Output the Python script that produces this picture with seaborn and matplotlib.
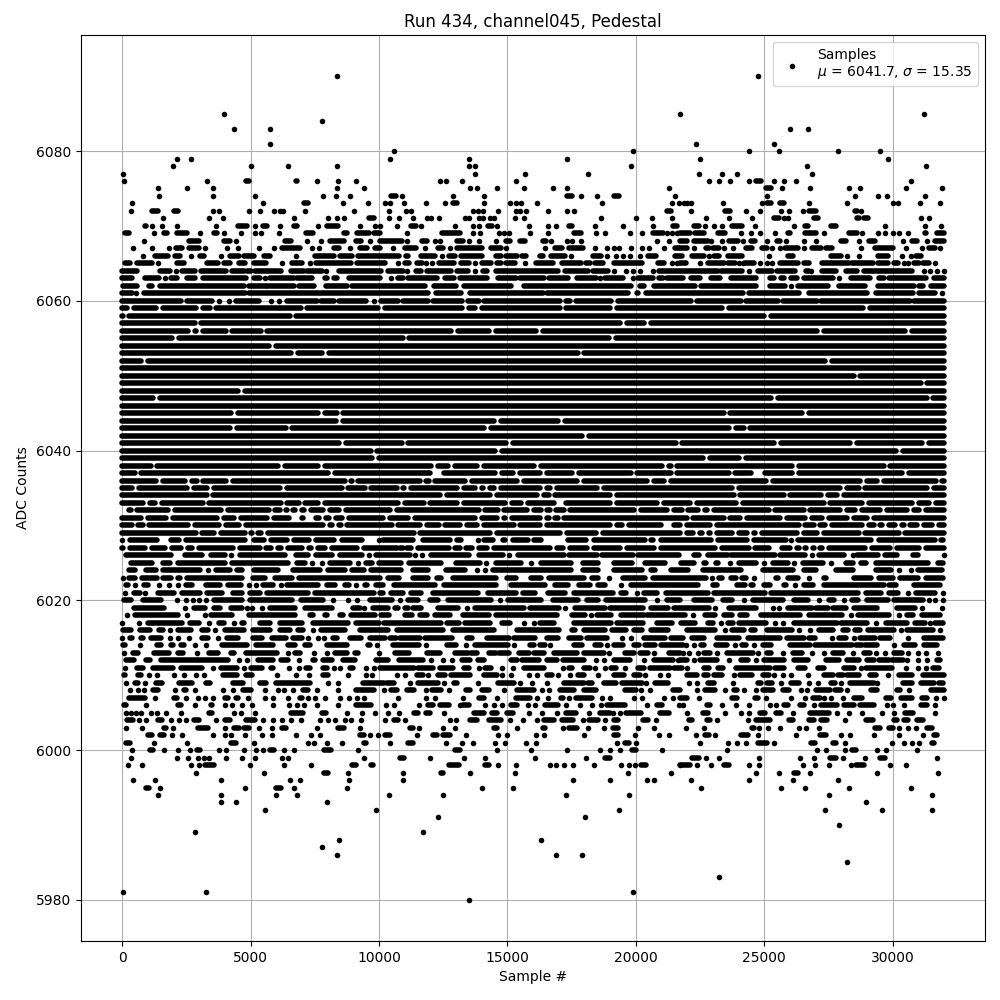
# Pedestal samples of one ADC channel.
# Single numbers are lone dots, (a, b) pairs are stretches where dots merge.

import matplotlib
matplotlib.use("Agg")
import matplotlib.pyplot as plt
import pandas as pd
import seaborn as sns

mean_adc = 6041.7
sigma_adc = 15.35
last_sample = 32000

# rows that are solid except for thin breaks: sample numbers of the breaks
dense_levels = [6059, 6058, 6057, 6056, 6055, 6054, 6053, 6052, 6051, 6050, 6049,
                6048, 6047, 6046, 6045, 6044, 6043, 6042, 6041, 6040, 6039, 6038,
                6037, 6036, 6035, 6034, 6033, 6032, 6031, 6030, 6029, 6027]
dense_breaks = [
    [325, 1456, 3016, 3536, 7085, 10112, 13362, 13882, 17171, 19147, 23484, 28983],
    [156, 6656, 25135],
    [2951, 19537, 20447],
    [2691, 3016, 4160, 5525, 12933, 14428, 16261, 27189, 30634],
    [2080, 11061, 19108],
    [5850],
    [6721, 7930, 17873],
    [871, 27514],
    [],
    [28619],
    [31219],
    [4641],
    [1339, 25408, 31453],
    [],
    [4381, 7774, 8489, 23549, 26604],
    [8476, 14623, 17106],
    [4329, 6500, 14233, 23770, 24329],
    [18042],
    [8580, 11022, 15091, 21682, 25525, 28489, 31284],
    [9815, 14662, 30283],
    [9867, 22743, 24160],
    [1248, 6214, 7761, 12153, 12816, 13947, 16183, 21162, 21487, 26214, 29789],
    [624, 8151, 12127, 12387, 14662, 15351, 16417, 17652, 19927, 21487, 23744, 24615,
     24888, 26214, 30504],
    [1456, 2574, 3029, 4173, 8801, 9074, 11711, 12062, 13492, 15507, 17847, 20577,
     21227, 25213, 28879, 29529, 31804],
    [533, 2665, 3445, 6279, 8684, 9581, 10827, 11113, 13167, 13882, 14181, 14623,
     16417, 16807, 18627, 23874, 28099, 28814, 31479],
    [3419, 12517, 14467, 16287, 16742, 19147, 23939, 25889, 27358, 27969],
    [962, 1417, 3263, 6305, 7007, 7761, 10892, 11867, 13167, 15052, 15663, 16937,
     17171, 19147, 20967, 22262, 24030, 27449, 28944, 30894, 31544],
    [143, 468, 1911, 3978, 5837, 6279, 6513, 6877, 7215, 7956, 8593, 10567, 14012,
     14753, 15897, 16430, 16781, 17327, 20057, 21357, 21924, 22574, 22899, 25304,
     26669, 28099, 28684, 29659, 30699, 31154],
    [871, 1833, 3835, 4498, 5772, 6630, 6916, 7137, 7410, 7800, 8190, 8710, 10307,
     11282, 13882, 14727, 15052, 16417, 16742, 17093, 22119, 23549, 24199, 25759,
     26734, 27384, 28359, 29139],
    [507, 936, 2691, 3913, 4693, 7969, 8320, 8645, 10632, 11737, 12452, 13297, 13947,
     15377, 16417, 19147, 19602, 21097, 21357, 21859, 23029, 26474, 27059, 27514,
     28944, 29399, 29724, 30244, 30569, 31089, 31674],
    [2990, 3718, 4927, 5148, 5551, 11477, 14467, 17197, 18601, 21859, 22379, 22704,
     23029, 23874, 24459, 24784, 26409, 27189, 28814, 30374],
    [163, 1040, 1820, 2431, 2860, 4446, 5486, 5941, 6318, 7150, 7488, 8034, 9295,
     10827, 10957, 11399, 12842, 13271, 13752, 14337, 16807, 17301, 18237, 19511,
     20837, 23224, 24524, 25304, 25564, 26149, 26474, 26773, 27059, 27384, 29074,
     30049, 31154],
]

# every other row: lone dots and merged stretches
tail_levels = [6090, 6085, 6084, 6083, 6081, 6080, 6079, 6078, 6077, 6076, 6075, 6074,
               6073, 6072, 6071, 6070, 6069, 6068, 6067, 6066, 6065, 6064, 6063, 6062,
               6061, 6060, 6028, 6026, 6025, 6024, 6023, 6022, 6021, 6020, 6019, 6018,
               6017, 6016, 6015, 6014, 6013, 6012, 6011, 6010, 6009, 6008, 6007, 6006,
               6005, 6004, 6003, 6002, 6001, 6000, 5999, 5998, 5997, 5996, 5995, 5994,
               5993, 5992, 5991, 5990, 5989, 5988, 5987, 5986, 5985, 5983, 5981, 5980]
tail_samples = [
    [8370, 24780],
    [3965, 21730, 31240],
    [7790],
    [4355, 5760, 25990, 26690],
    [5760, 22365, 25365],
    [10605, 19875, 24430, 25560, 27895, 29530],
    [2130, 2680, 10450, 13490, 17340, 22520, 29840],
    [1975, 5020, 6460, 8370, 13490, 13760, 19835, 26650, 31320],
    [30, 13760, 15705, 18160, 22445, 23340, 23925, 26845],
    [65, 3300, (4810, 4940), (6770, 6830), 7590, 8410, 9110, 12360, 12630, 13250, 15320,
     22870, 23260, 23690, 24430, (24700, 24860), 25365, 25790, 26260, 30700],
    [1390, 2520, 3535, 8370, 9425, 13565, 13800, 14615, 15665, 16795, 17340, 21315,
     (25090, 25250), 25715, 26805, 28285, 28750, 30540, 31945],
    [1430, 3535, 5170, 7825, 8330, 8880, (10460, 10670), 10880, 12900, 14110,
     (17340, 17500), 17885, 18510, (19170, 19330), 21510, 25130, 28520, 29450, 29800, 31280],
    [375, 5480, (7100, 7240), 8600, 9580, 10250, 10450, 10995, 11850, 12590, (12900, 13060),
     14110, 15085, 15355, 15550, 16175, 18705, 21430, 21690, 21885, 22015, 22170, 23415,
     24935, (25130, 25285), (25600, 25755), 26765, 28245, 30035, 30230, 31050, 31865],
    [335, (1150, 1390), (2015, 2170), 3535, 3770, 4940, 5370, 5915, 6150, 6270, 7125, 9035,
     10410, 11070, 11265, 13645, 13875, 14070, 14655, 15355, 15510, 15745, 16600, 17305,
     17615, (21235, 21390), 22170, (23495, 23690), 24275, 24855, 25675, 25985, 26530,
     (26765, 27000), (28520, 28635), 28790],
    [1585, 3380, 3925, 6695, 8025, 8370, 8645, (9620, 9815), 10410, 10800, 11345, 11890,
     12045, 12355, 13370, 13525, 13915, 14070, 14345, 14500, 15280, 15665, 18665, 20030,
     20615, 21430, 22755, 23650, 24545, (25365, 25560), 25755, 25945, (26960, 27115),
     (28635, 28710), (28905, 29060), 31090, 31400],
    [(880, 920), 1155, 1545, 2130, 3650, (4510, 4875), 5170, (5480, 5640), 6150, (6695, 6810),
     7630, (7980, 8410), 9270, 9850, 10050, 10720, (11265, 11425), 11655, 12980, 13645,
     13915, (14265, 14420), 14615, 15825, 16600, 16915, (17420, 17500), 18395, 19520, 20690,
     (21470, 21600), (22285, 22445), 22715, 23065, 23340, (23730, 24120), 24625, 26180,
     (26610, 26725), (27620, 27780), 29725, 31245, 31905],
    [(100, 280), 1235, (1625, 1755), (2120, 2520), 3015, (3575, 3705), 3965, 4630, 5175, 5410,
     6110, (7165, 7435), (8645, 8775), (9140, 9620), (9815, 10050), 11100, (12475, 13160),
     13645, 13955, 14695, 14890, 15080, 15900, 16600, (17615, 17885), 18470, 18820, 19795,
     20225, (20690, 21080), 21235, 21430, 21625, (21730, 22120), (22325, 22640),
     (23185, 23495), 24080, 24470, 24820, 25440, (25945, 26025), (26610, 27000), 27350,
     (28285, 28635), 28830, 29450, 29725, 30000, 30270, 30620, (31245, 31320), (31750, 31985)],
    [845, (2600, 2990), (3965, 4200), 4435, (6345, 6580), 7200, 7750, (8100, 8645),
     (9090, 9295), 9660, (10050, 10880), 11110, (11695, 11890), 12165, 12395, (13060, 13255),
     13525, 13915, 14575, (14965, 15085), (15510, 15705), (16405, 16525), 16720, 17305, 17535,
     17850, 20810, 21315, (21730, 22015), (22250, 22830), 22950, 23340, (23650, 24000), 24195,
     (24470, 24660), 25130, (25520, 25635), 25870, 26570, 27000, (28010, 28205), 28710,
     (29100, 29335), 30425, (30775, 30970), 31360, (31635, 31985)],
    [415, 1155, 1810, (2090, 2325), (2600, 2990), 3225, 4080, 4510, 5330, 5915, (6225, 6930),
     7400, 7670, (8255, 8450), 8880, (9270, 9540), (9850, 10050), 10530, (11035, 11425), 11810,
     (12320, 12515), 12785, (13060, 14005), (14380, 14735), 14965, 16485, (16875, 17110),
     (17420, 17965), 18430, 18900, 19135, 19365, 19835, 20260, 20535, 21120, (21545, 21690),
     (21730, 22015), 22250, (22755, 22870), (23025, 23260), 23455, 23770, (24310, 24545),
     (24935, 25130), 25325, 25600, (25830, 26300), 26570, (26880, 27195), (27425, 27660), 28790,
     (29335, 30035), 30505, 31165, (31400, 31635), 31865],
    [805, (1275, 1780), (2055, 2250), 2665, (3015, 3195), 3850, (4200, 4550), (4730, 5125),
     (5510, 5770), 6760, (7500, 8255), (8490, 8970), (9190, 10800), (11070, 11150),
     (11655, 12190), 12475, (12710, 12980), (13215, 13995), (14575, 14770), (14965, 15380),
     (15590, 15745), (16290, 16405), (16720, 17265), 17495, (18355, 18665), 18900, 19250, 19485,
     19795, 20185, (20495, 20770), (21510, 21800), (22210, 22640), 22835, (23030, 23260),
     (23610, 24155), 25170, (25945, 26105), (27620, 28010), 28245, 28710, (29415, 29840), 30350,
     30700, (30930, 31125)],
    [(115, 325), (585, 1170), 1390, (2145, 2405), (3290, 3730), (3965, 4200), (4550, 4785),
     (5135, 5590), 6225, (6620, 7020), 7320, (7540, 8905), (9165, 10255), 10760, (11035, 11190),
     (11500, 11695), 11850, 12085, (12355, 12940), (13215, 13490), 13735, (14030, 14380),
     (14615, 14770), (14965, 15315), 15705, (16135, 16760), (17110, 17885), (18045, 18235),
     (18395, 18745), (19170, 20225), (20885, 21120), 21430, 21625, (21730, 21940), 22520,
     (22830, 23455), (23610, 23850), 24040, 24195, (24270, 24590), 24820, 25130, 25325,
     (25635, 26335), (26570, 26765), (27235, 28285), (28440, 29255), (29450, 29840),
     (30040, 30230), 30430, 30620, (30820, 31015), (31205, 31400), 31670],
    [(0, 585), (1495, 1860), 2090, (2330, 2850), (3055, 4030), (4290, 4745), (4875, 5030),
     (5190, 6175), (6565, 7085), (7215, 7800), 7955, (8450, 10090), (10370, 10955), 11110,
     (11460, 11655), (11890, 12825), (13060, 13450), 13760, (14070, 14190), (14575, 16955),
     (17265, 18160), (18355, 18935), 19135, 19640, 19875, 20185, 20690, (20925, 23220),
     (23310, 24150), 24430, (24750, 25310), (25490, 26220), (26620, 26730), 26810,
     (27250, 27780), (28180, 28620), (28890, 30760), 31220, 31450, 31720, 31990],
    [(0, 390), (910, 1430), 1675, (1885, 2145), (2520, 2850), (3145, 4810), (5120, 5385), 5575,
     (5770, 6680), (6825, 7410), (7905, 7995), (8255, 8385), (8825, 10050), 10490,
     (10760, 10955), (11150, 12280), (12590, 12940), (13175, 14225), (14655, 15355),
     (15510, 16445), (16640, 17380), (17730, 18470), 18625, (18820, 19485), 19910,
     (20105, 20690), (20925, 21080), (21235, 21850), (22150, 22500), (22930, 23290),
     (23700, 24690), (25220, 25370), (25650, 25760), (26040, 26280), (26570, 27700), 27900,
     (28380, 29130), (29460, 29660), (29850, 31320), (31600, 31990)],
    [(50, 585), (1040, 1170), (1495, 4745), (4940, 5590), (5655, 6695), (6890, 7475),
     (7930, 8775), (8970, 11800), (12130, 13000), (13300, 15150), (15640, 19820),
     (20170, 20340), (20730, 22300), (22540, 24670), (25220, 25800), 26050, (26300, 27490),
     (27920, 28910), (29420, 30820), (31040, 31170), (31500, 31990)],
    [(0, 390), 530, (845, 4800), (4950, 11900), (12240, 13200), (13540, 16400), (16540, 19700),
     (20060, 20100), (20400, 24180), (24400, 26370), (26760, 29000), (29350, 30800),
     (31030, 31650), 31930],
    [(0, 2275), (2535, 3510), 3770, 4160, (4420, 5330), 5810, 6110, (6435, 7605), (7750, 8250),
     (8450, 9490), 9815, (10100, 10750), (10950, 11900), (12100, 13240), (13480, 13890),
     (14100, 17070), (17300, 17460), (17680, 19040), (19300, 22150), (22370, 24100),
     (24280, 25550), (25740, 27040), (27220, 30680), (30820, 31990)],
    [0, (312, 1378), (1911, 2210), (2496, 4784), (5135, 5538), (5785, 6409), (6682, 7280),
     (7540, 8268), (8580, 9334), 10010, (10177, 11321), (11698, 12751), (13024, 13206), 13843,
     (14103, 14441), (14818, 14896), (15208, 15806), (16053, 16326), (17353, 18081),
     (18393, 20356), (20603, 20681), (20993, 22938), (23185, 24342), (24615, 25863), 26058,
     (26305, 29178), (29490, 31648), (31895, 31973)],
    [(156, 1898), (2431, 3094), (3471, 4004), 4251, (4576, 6344), (6786, 7254), (7566, 8164),
     (8476, 9334), 9620, (9906, 11200), 11412, 11672, (12047, 13522), (13900, 14837), 15052,
     (15400, 17200), (17400, 18500), (18700, 19900), (20100, 21700), (22258, 22450),
     (22800, 23600), (23724, 25434), (25600, 26600), 26864, (27153, 28129), 28463,
     (28618, 29450), (29700, 30180), (30790, 31000), 31999],
    [(351, 1170), (1586, 1859), (2171, 4004), (4290, 6474), (6825, 7124), 7410, 7800,
     (8112, 8879), 9191, (9516, 9724), (10010, 10866), (11178, 12426), (12998, 13921), 14168,
     (14558, 15546), 15936, (16313, 17496), (17938, 18536), (19173, 19836), (20343, 21136),
     (21780, 22287), (22665, 22743), (23120, 23198), 23679, (24030, 24693), 24979,
     (25330, 25928), 26149, (26500, 27293), 27605, (28190, 28463), (28775, 28983),
     (29360, 31388), (31765, 31973)],
    [(260, 494), (936, 1339), (1586, 3029), 3341, (3666, 4199), (4485, 4654), (5122, 6084),
     (6656, 7709), (8021, 8684), (8970, 9438), (9711, 10866), (11308, 11906), (12608, 13336),
     13817, 14142, (14428, 17496), (17938, 18536), (19173, 20226), (20603, 20746),
     (21383, 22040), (22600, 24108), (24940, 26123), (26565, 27033), (27800, 28463),
     (29360, 29958), 30270, 30700, (30985, 31908)],
    [26, (260, 494), (780, 1340), (1590, 1900), (2170, 2250), (2520, 4650), (5100, 5570),
     (5940, 6600), (6900, 10050), (10340, 10800), (11310, 11900), (12280, 12400),
     (12870, 14570), (14970, 15350), (15920, 16320), (16640, 17970), (18310, 18530), 18950,
     (19500, 20350), (20690, 22740), 22965, (23250, 23350), (23700, 23920), (24130, 24310),
     24590, (25450, 25550), (25910, 26310), 26735, (27340, 27420), (28510, 29180),
     (29480, 30000), (30300, 31000), (31300, 31960)],
    [(160, 230), 494, (870, 990), 1456, 1820, 2170, (2500, 2740), (3280, 3810), (4120, 4620),
     4940, 5200, (5490, 5890), 6175, (6420, 7620), (7960, 8290), (8670, 8840), 9100,
     (9450, 9530), (9900, 10150), (10590, 12170), (12540, 14570), (15140, 16460), (16850, 17370),
     (17800, 18210), (18520, 18790), 19410, (19820, 22420), (22990, 23170), (23960, 24240),
     (24480, 24560), (24990, 25210), (25780, 25870), 26215, (26560, 26900), (27340, 29660),
     (29880, 30150), (30850, 31840)],
    [117, (480, 690), 910, (1380, 2015), (2340, 3030), (3315, 3875), (4315, 4655), (4965, 5370),
     (5640, 7255), (7530, 9790), (10050, 10150), (10460, 10930), (11240, 11650), (12090, 13860),
     (14230, 15350), (15600, 16070), (16570, 17230), (17610, 19120), (19430, 19640), 20060,
     (20340, 20810), (21190, 22820), (23050, 25030), (25260, 28640), (28970, 29560),
     (29870, 30220), 30590, (30910, 31640), 31965],
    [(91, 364), (810, 1530), 2145, 2485, 2755, 2990, 3250, (3560, 4650), (4965, 6600),
     (6980, 7840), 8215, 8800, 9150, (9645, 10500), 10830, (11130, 11510), (11980, 12290),
     (12690, 14370), 14730, (15040, 16320), (16760, 17750), (18110, 18540), (18850, 20350),
     20840, (21230, 21730), (22280, 22960), (23400, 23760), 24200, (24570, 25730),
     (26170, 26690), 27130, (27510, 27730), 28100, (28420, 28650), (29000, 29820),
     (30040, 31200), 31400, 31660, 31960],
    [(480, 1640), 2440, (2800, 3225), (3560, 3810), (4250, 4650), 4875, 5070, 5435,
     (5750, 6735), (7110, 8165), (9000, 9270), 9425, (9780, 10350), (10630, 10760),
     (11000, 11120), (11310, 11640), (12320, 13080), 13430, (13750, 15650), (15890, 17000),
     17260, (17650, 18800), (18990, 20300), (20580, 21260), (21480, 22870), 23100,
     (23630, 24690), 25340, 25560, (25920, 26860), (27000, 27480), (27700, 28200),
     (28490, 29390), (30180, 30870), 31150, 31930],
    [182, (520, 2180), 2510, 3220, (3470, 4265), (4930, 6735), (7310, 7450), (7890, 7970),
     (8475, 8620), (8930, 9855), (10100, 10400), (11020, 11300), (11600, 11880), (12190, 12780),
     (13280, 14290), (14570, 16940), (17520, 18020), 18240, (18490, 19050), (19410, 20320),
     (20450, 21930), 22220, (22710, 23100), (23420, 23740), (24050, 24330), (24880, 26400),
     (26730, 28050), 28380, (28640, 29850), 30240, (30570, 30790), (31150, 31830)],
    [0, 650, (1000, 2315), (2625, 2990), 3380, (3770, 3965), 4355, (4680, 4745), (5360, 5760),
     (6135, 6995), (7435, 8815), (9125, 9985), (10180, 12400), (12650, 13130), (13350, 14310),
     (14790, 15100), 15640, 16030, (16290, 16800), (17580, 19050), (19280, 20270),
     (20840, 21430), (21780, 22320), (22800, 22990), 23315, (23590, 23800), (24040, 25070),
     25410, 25720, (26170, 27850), (27990, 29020), 29370, (29730, 30560), (30860, 31280), 31450,
     (31640, 31980)],
    [(50, 365), (700, 1080), (1430, 1600), 1860, (2170, 2700), (3120, 3350), 3615, (3990, 4745),
     (5100, 5760), (6135, 6540), (6850, 7060), 7450, (7760, 8680), (9260, 10340), (10720, 12490),
     (12870, 14500), (15370, 17030), (17520, 17620), (17990, 18790), (19080, 19640),
     (19930, 20230), (20600, 21260), (21990, 23100), 23460, (23730, 24200), (24480, 24650),
     (25130, 26080), 26350, 26770, (27150, 27670), (28060, 28280), (28520, 28730),
     (29060, 30040), 30330, (30560, 31560), 31840],
    [0, (310, 400), (740, 820), (1130, 1530), 1860, 2170, 2600, (3120, 3350), 3750, (4100, 4525),
     (5100, 5435), (5850, 6370), (6650, 7000), 7240, 7630, 7865, (8215, 8360), (8870, 9310),
     (9670, 10220), (10440, 10650), (10830, 11600), (11790, 12840), (13430, 13620),
     (14200, 15050), (15250, 16070), (16550, 16970), (17390, 17880), (18110, 18870), 19480, 19800,
     (20320, 21130), (21360, 21860), (22180, 22640), (23160, 24030), (24390, 25600),
     (25890, 26560), (26730, 26970), 27630, (27900, 28170), 28490, (28720, 29300),
     (29500, 29910), 30590, (31220, 31960)],
    [(30, 130), 690, (1350, 1530), (1910, 1990), (2300, 2420), 2830, 3250, (3900, 4850),
     (5225, 5890), (6460, 6735), (7110, 7320), (7960, 8750), (9580, 9660), 9945, (10560, 11560),
     11815, (12640, 13010), 13375, (13740, 15010), 15250, (15870, 16030), (16280, 16480), 16680,
     (17610, 17900), (18400, 18630), 18880, (19150, 19510), (19930, 20120), (20350, 20740),
     (20970, 21860), 21965, 22250, (22530, 22640), (23120, 23570), 23850, (24120, 24280), 24590,
     (24950, 25270), (26020, 26770), (26970, 28420), (28580, 28810), (28940, 29400), 30050,
     (30440, 30870), (31220, 31730)],
    [65, (420, 620), (1260, 1820), (2170, 2380), 2900, (3380, 3745), (4250, 4370), (4840, 6020),
     6470, (6720, 6930), 7475, 7965, (8280, 8750), (9060, 9200), 10010, (10630, 11170),
     (11890, 12360), (12970, 13450), (13570, 13800), (14270, 14550), (14660, 15050),
     (15440, 15830), (16030, 16420), (16820, 17720), (17980, 18760), 18950, (19580, 19930),
     (20160, 20480), 20710, (21290, 21730), 21860, 22090, 22440, (22650, 22900), 23150,
     (23540, 23880), (23960, 24580), 24780, (25130, 25270), 25730, (26110, 26460), 26850, 27320,
     (27700, 28080), 28450, (28880, 29130), 29350, 29700, (30050, 30360), 30590, 30980, 31320,
     31760],
    [(160, 470), (940, 1080), (1520, 4135), 4550, 4875, (5290, 5890), (6200, 6470), 6890,
     (7440, 7510), (7830, 8160), (8610, 9070), (9905, 10370), (10800, 11700), 12010, 12480, 12830,
     (13220, 13530), (13840, 14100), (15130, 15360), (15560, 16220), (16530, 16920),
     (17160, 17980), 18440, 18760, (19150, 19770), 20320, (20710, 21450), 21640, (21730, 22015),
     22250, (22520, 23180), 23650, (24080, 24390), 24700, (25010, 25760), (26150, 26690),
     (27400, 27900), (28230, 28680), (28990, 29270), (29490, 29850), (29970, 30400), 30550, 30985,
     31330, (31720, 31850)],
    [105, (585, 820), (1200, 1990), (2300, 3120), 3535, (3860, 4460), 4745, (5030, 5435),
     (5810, 5890), 6480, 6890, (7180, 7320), (7830, 7970), 8255, 8490, (8870, 9010), 9490, 9800,
     (10050, 11350), (11540, 12090), (12360, 12870), (13300, 13490), 13880, (14150, 14350), 14780,
     15210, (15640, 16150), (16220, 16420), 17160, (17390, 17520), (17980, 18210), 18410, 18800,
     (19030, 19220), 19570, (20080, 20320), (20550, 21330), (21490, 21790), 22015, (22640, 22870),
     (23220, 23380), (23890, 25240), (25410, 25760), (26300, 26610), (27090, 27320),
     (28100, 28490), 28760, (28960, 29980), 30520, 30985, 31300, (31570, 31800)],
    [(85, 105), (610, 755), 1040, 1365, 2035, 2420, 2890, 3185, (3925, 4460), (4835, 5045), 6045,
     6760, 7280, (7830, 8010), 8800, 9490, 9750, 10685, 11035, (11465, 11735), 11930,
     (12285, 12560), (12790, 13530), (14080, 14585), 14780, 15130, 15830, 16145, (16535, 16730),
     16965, 17430, (17740, 17975), 18525, (19145, 19535), (19925, 20160), 20355, 20940, 21250,
     (21990, 22380), (22640, 22830), (23030, 23350), 23845, (24070, 24520), (24940, 25170), 25365,
     25720, 26065, 26690, (27315, 27700), (27895, 28090), (28230, 28680), (29110, 29340), 29840,
     (30240, 30750), (31170, 32000)],
    [145, (510, 625), 885, (1325, 1535), (2235, 2705), (3275, 3420), (4320, 4720), (5355, 5590),
     (6005, 7320), 8020, 8410, (9385, 10180), (10330, 10570), 11230, (11540, 12300), 12520,
     (12910, 13040), 13840, (14620, 15250), 15480, 15950, 16530, (17200, 17970), (18130, 18290),
     (18760, 19230), (19460, 20240), 20400, (20750, 21250), 22055, 22405, (22830, 23030), 23770,
     (24745, 24860), (25130, 25290), 25640, (26030, 26340), 26735, 27080, (27590, 27740), 27980,
     (28330, 29270), 29385, (30400, 30750), (31100, 31630), (31800, 31980)],
    [300, 610, 845, (1220, 1380), 2055, (2420, 2470), 2835, 3925, 4315, (4705, 5005), 5565, 6070,
     6305, 6655, (7045, 7230), 7580, 8410, (9125, 9790), 10215, (10490, 10720), (11075, 11350),
     11815, (12050, 12400), 12710, (13375, 13560), (14000, 14270), 14860, (15360, 16030), 16340,
     16610, (17040, 17590), (17980, 18445), (19575, 20010), 20200, 20550, (21450, 21730), 22405,
     (22700, 23100), 23495, (23810, 23925), 24200, 24670, (24940, 25330), (25720, 25950), 26420,
     26655, (27010, 27550), (27750, 27980), 28230, (29150, 29380), (30165, 30280), 30635,
     (31490, 32000)],
    [(270, 885), 1275, (2030, 2120), 2500, 2950, 3210, 3535, (4015, 4105), (4445, 4525), 4900,
     5565, 5890, 6460, (6940, 7000), 7240, 7530, 7905, 8490, 8840, 9150, 9425, 10760, 11815, 12165,
     13260, (13880, 14080), 14580, (15325, 15900), 16145, 16570, (17080, 17160), 17390,
     (17670, 18290), 18680, 18990, 19930, 20240, 21100, 21450, (21730, 21990), 22445,
     (23730, 23960), (24630, 24750), 25055, 26030, 26580, (26890, 27160), 27350, 27620, 28060,
     (28490, 28800), (29735, 29930), (30310, 30750), (31140, 31340), 31690, 32000],
    [(80, 170), 920, (2180, 2275), 2835, (3470, 3520), 4005, 4275, 4665, 5055, 5890, 6500, 6810,
     7085, 7580, 8400, (9125, 9685), 10295, 10605, 11580, (11930, 12120), (12360, 12710), 13140,
     (13290, 13490), 14115, 14465, 14780, (15130, 15360), 15790, 16065, (16455, 16960), 17275,
     17820, 18290, 18640, (18870, 19600), 20430, (20810, 21010), 21680, 21860, (22760, 22910),
     23340, 23890, 24430, 25210, 25480, (25760, 25910), (26380, 26540), 26930, (27200, 27820),
     (28100, 28490), (28720, 29270), 29770, 30000, 30430, (31100, 31340), 31640],
    [145, 340, 535, 730, 1120, 1350, 1700, 2290, (3400, 3520), 4355, 4630, 5175, (6590, 7030),
     (7800, 7930), 8760, 9345, 9855, 10370, 10800, (11350, 11540), (11820, 12000), 12520,
     (13690, 14080), (14390, 14600), (14990, 15210), 15830, 16340, 16930, (17280, 17660), 18170,
     (18600, 18990), 19100, 19380, (19610, 20190), (20940, 21300), 22015, (22600, 22830), 23460,
     24080, 24430, (24820, 25015), (25480, 25640), 26105, (26770, 27510), 27820, 28290, 28800,
     29580, 30040, (30480, 30790), 31650],
    [(180, 415), 650, 925, (1390, 1545), 1900, 2210, 2485, (2795, 2990), 3650, (4005, 4200),
     (4825, 5175), 5485, 5875, 6225, 6580, 6970, 7710, 8020, 8295, 8685, 8920, 9310, 10255,
     (10570, 10760), 11035, 12750, 13020, (13530, 13820), (14270, 14740), 15090, 15600, 16145,
     (16420, 16800), (17120, 17560), 17940, (18170, 18520), 18800, (19150, 19300), (20280, 20470),
     20780, (22055, 22210), (22760, 22910), 23150, 24390, (24665, 25210), (25950, 26140),
     (26730, 26960), (27230, 27430), 28130, (28950, 29220), (30040, 30170), (30430, 30620),
     (30970, 31170)],
    [145, 765, (1625, 1700), 1975, (2950, 3340), 4005, (4355, 4550), (4745, 4940), 5330, 5835,
     (6225, 6385), 7590, (8410, 8645), 9270, (11230, 11310), 11580, 12480, 12945, (14470, 14600),
     15360, (16380, 16480), 17160, (17390, 17720), 18130, 18760, (19110, 19300), 20080, 20705,
     21975, 22640, (24510, 24590), 24785, 25135, 25600, 26345, 26615, 27125, (29310, 29500),
     (29855, 30010), 30245, 30595, 30910, (31335, 31530)],
    [(1000, 1155), (1470, 1625), 1935, 2325, 3535, 4005, 4240, 4785, 5445, 5835, 6775, 7360, 7710,
     (9270, 9425), 9660, 9970, (10255, 10450), 11465, (12125, 12280), (12515, 12775), 13400, 14620,
     14975, 16105, 16415, 17975, (19145, 19300), 19965, 20900, 21290, 22365, (22715, 22870), 23105,
     (24080, 24390), 24780, 26225, (27160, 27390), 27980, 28330, 29270, 30235, 31170, (31600, 31720)],
    [(145, 300), 1235, 2520, (4240, 4435), 5135, 7240, 7475, 7980, 8570, (9425, 9505), 10450,
     (11150, 11345), 12630, 13220, 13650, 14505, 14895, 15715, 16105, 19265, (19575, 19730), 20005,
     22520, 23575, 23925, 24275, (24745, 25110), 25370, (26810, 26965), (27670, 27790), 28140, 29970,
     30440, 30750, 31025, (31530, 31610)],
    [375, (1080, 1195), 1625, 2170, 2640, (2910, 3030), 3770, 4045, 4745, 5215, 5485, (5760, 5915),
     6305, 6695, (7865, 8140), 9190, (12945, 13165), 14585, 15910, 17315, 18600, 18990, 19380,
     (19850, 20005), 21020, 23535, 27045, 27400, 28140, (28410, 28565), 29385, 29735, 30945],
    [340, 2130, 2560, 2950, 3185, 3380, 4045, 4665, 5175, 6225, 6460, 9425, (10840, 10995), 11970,
     13295, 14115, 16065, 18055, (18795, 18990), (22210, 22445), 22755, 23260, 24785, 26415, 26925,
     (27550, 27780), 28060, 28920, (29500, 29695), 31725],
    [220, 765, 2680, 2990, (3225, 3575), 4980, 6305, 7360, (8955, 9115), (9700, 9775),
     (12710, 13100), (14115, 14270), 14620, 15325, 16650, 16880, 17195, 17550, 18365, 19420, 19730,
     19965, (20200, 20395), 21710, (21730, 22095), 22405, 22915, (23420, 23650), 24395, 24785, 26495,
     26970, 27515, 28370, (28565, 28880), 29900, 30515],
    [2870, 5525, (7865, 8020), 8800, 10955, (12400, 12515), 13565, 15285, 19690, 21370, 24665, 25565,
     (26150, 26305), 26775, 29385, 31765],
    [415, 1275, 3850, 6540, 6930, 8840, 10955, 17545, 18990, 20435, 20730, 22170, 24395, 26110, 27865],
    [(920, 1040), 1470, 4785, (5990, 6190), 6695, 8760, 14000, 15210, 22560, 25640, 26580, 28295, 30710],
    [1390, 3850, 5975, 6810, 10410, 12480, 17275, 19730, 27515, 31530],
    [3850, 4435, 7980, 28955],
    [5565, 9890, 19340, 27360, 29580, 31530],
    [12320, 18015],
    [27900],
    [2850, 11735],
    [8450, 16300],
    [7790],
    [8370, 16885, 17900],
    [28210],
    [23260],
    [30, 3260, 19875],
    [13490],
]

# lone dots and merged stretches, in long form
dot_x, dot_y = [], []
run_y, run_start, run_stop = [], [], []
for level, samples in zip(tail_levels, tail_samples, strict=True):
    for s in samples:
        if isinstance(s, tuple):
            run_y.append(level)
            run_start.append(s[0])
            run_stop.append(s[1])
        else:
            dot_x.append(s)
            dot_y.append(level)

# solid rows run between their breaks
for level, breaks in zip(dense_levels, dense_breaks, strict=True):
    start = 0
    for b in breaks:
        run_y.append(level)
        run_start.append(start)
        run_stop.append(b - 130)
        start = b + 130
    run_y.append(level)
    run_start.append(start)
    run_stop.append(last_sample)

df_dots = pd.DataFrame({"sample": dot_x, "adc": dot_y})

fig, ax = plt.subplots(figsize=(10, 10), dpi=100)
fig.subplots_adjust(left=0.081, right=0.985, top=0.965, bottom=0.059)

label = f"Samples\n$\\mu$ = {mean_adc}, $\\sigma$ = {sigma_adc}"
sns.scatterplot(data=df_dots, x="sample", y="adc", color="black", s=16, linewidth=0,
                zorder=2, label=label, ax=ax)
ax.hlines(run_y, run_start, run_stop, colors="black", linewidth=4, capstyle="round", zorder=2)

ax.set_xlim(-1600, 33600)
ax.set_ylim(5974.5, 6095.5)
ax.grid(True)
ax.set_title("Run 434, channel045, Pedestal")
ax.set_xlabel("Sample #")
ax.set_ylabel("ADC Counts")
ax.legend(loc="upper right")

fig.savefig("out.png", dpi=100)
